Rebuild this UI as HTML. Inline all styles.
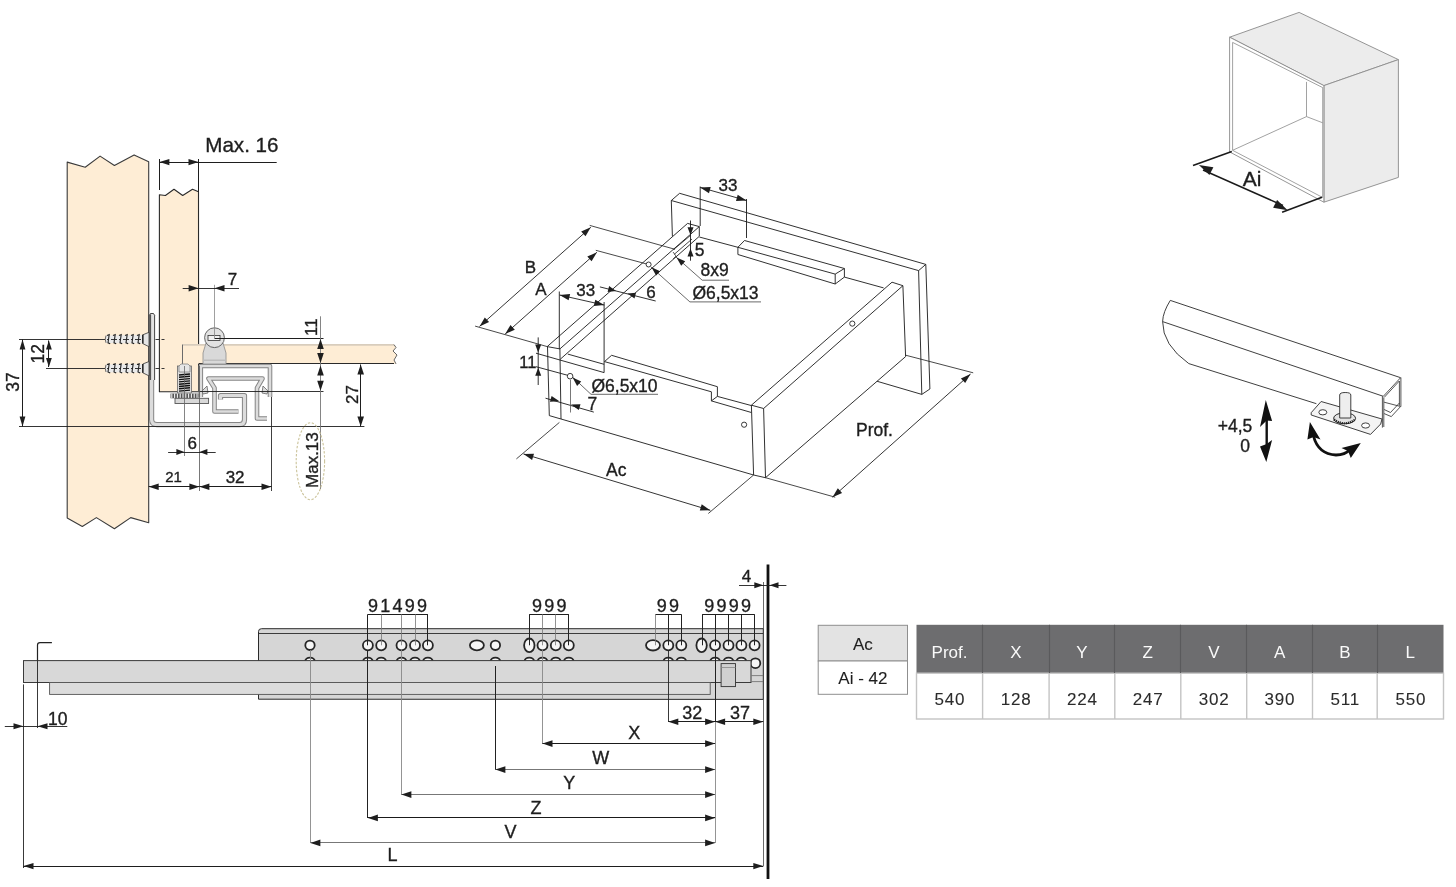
<!DOCTYPE html>
<html><head><meta charset="utf-8"><style>
html,body{margin:0;padding:0;background:#fff;width:1456px;height:887px;overflow:hidden}
svg{display:block;will-change:transform}
text{font-family:"Liberation Sans",sans-serif}
</style></head><body>
<svg width="1456" height="887" viewBox="0 0 1456 887">
<rect width="1456" height="887" fill="#fff"/>
<polygon points="67.2,162.1 85.2,167.2 100.1,156.1 114.4,165.5 134.1,154.9 148.7,161.7 148.7,522.8 130.7,517.6 114.4,528.8 96.4,517.6 82.3,526.5 67.2,518.1" stroke="#3a3a3a" stroke-width="1.1" fill="#feedd5" stroke-linejoin="round" />
<polygon points="159.4,194.7 165.4,195.5 174.0,189.2 182.7,195.5 192.5,189.2 198.5,191.8 198.6,391.7 159.4,391.7" stroke="#2a2a2a" stroke-width="1.1" fill="#feedd5" stroke-linejoin="round" />
<polygon points="182.3,344.6 394,344.6 396,347 393,351 397,355 394,360 396,363.9 182.3,363.9" fill="#feedd5" stroke="none"/>
<line x1="182.3" y1="344.8" x2="394.0" y2="344.8" stroke="#d8cdbd" stroke-width="1.8" />
<line x1="182.5" y1="344.6" x2="182.5" y2="363.9" stroke="#6b6b6b" stroke-width="1" />
<polyline points="394.0,344.6 396.0,347.5 393.0,351.0 397.0,355.0 394.0,360.0 396.0,363.9" stroke="#555" stroke-width="0.9" fill="none" stroke-linejoin="round" />
<line x1="198.6" y1="363.5" x2="394.0" y2="363.5" stroke="#2a2a2a" stroke-width="1" />
<line x1="394.0" y1="363.5" x2="364.4" y2="363.5" stroke="#2a2a2a" stroke-width="1" />
<path d="M151.6,378 V419.5 Q151.6,424.6 157,424.6 H239.5 Q244.5,424.6 244.5,419.5 V395.5 H220.5 V399.5" fill="none" stroke="#858585" stroke-width="5.2" stroke-linejoin="round" stroke-linecap="butt"/>
<path d="M151.6,378 V419.5 Q151.6,424.6 157,424.6 H239.5 Q244.5,424.6 244.5,419.5 V395.5 H220.5 V399.5" fill="none" stroke="#dcdcdc" stroke-width="3.2" stroke-linejoin="round" stroke-linecap="butt"/>
<path d="M200.8,397 V366 H270 V397" fill="none" stroke="#858585" stroke-width="4.6" stroke-linejoin="round" stroke-linecap="butt"/>
<path d="M200.8,397 V366 H270 V397" fill="none" stroke="#dcdcdc" stroke-width="2.6" stroke-linejoin="round" stroke-linecap="butt"/>
<polygon points="202,391 207,386 208,393 203,394" fill="#ddd" stroke="#666" stroke-width="0.8"/>
<polygon points="268,391 263,386 262,393 267,394" fill="#ddd" stroke="#666" stroke-width="0.8"/>
<path d="M238.5,411.5 H214.5 V388 L208.5,378.5 H262.5 L257,388 V418.5 H267" fill="none" stroke="#858585" stroke-width="4.6" stroke-linejoin="round" stroke-linecap="butt"/>
<path d="M238.5,411.5 H214.5 V388 L208.5,378.5 H262.5 L257,388 V418.5 H267" fill="none" stroke="#dcdcdc" stroke-width="2.6" stroke-linejoin="round" stroke-linecap="butt"/>
<path d="M149,316 L150.5,313.5 L153.5,313.5 L155,316 V380 L149,380 Z" fill="#e2e2e2" stroke="none"/>
<path d="M149.3,316 V380 M150.6,314.5 V380 M154.6,316 V380 M149,316 L150.5,313.5 L153.5,313.5 L155,316" fill="none" stroke="#333" stroke-width="0.9"/>
<path d="M105.9,335.4 L142.8,334.9 L142.8,343.59999999999997 L105.9,343.0 Z" fill="#eaeaea" stroke="none"/>
<path d="M142.8,334.8 L149,332.3 V346.7 L142.8,343.59999999999997 Z" fill="#e6e6e6" stroke="#333" stroke-width="0.8"/>
<line x1="142.8" y1="334.8" x2="142.8" y2="343.6" stroke="#222" stroke-width="1.4" />
<path d="M107.0,335.4 L109.2,334.59999999999997 L108.0,342.8 L110.2,343.8 M113.0,335.4 L115.2,334.59999999999997 L114.0,342.8 L116.2,343.8 M119.0,335.4 L121.2,334.59999999999997 L120.0,342.8 L122.2,343.8 M125.0,335.4 L127.2,334.59999999999997 L126.0,342.8 L128.2,343.8 M131.0,335.4 L133.2,334.59999999999997 L132.0,342.8 L134.2,343.8 M137.0,335.4 L139.2,334.59999999999997 L138.0,342.8 L140.2,343.8 " stroke="#222" stroke-width="1.1" fill="none"/>
<path d="M106,335.59999999999997 Q104.5,339.2 106,342.8" stroke="#444" stroke-width="0.8" fill="none"/>
<line x1="99.0" y1="339.5" x2="142.0" y2="339.5" stroke="#222" stroke-width="0.9" stroke-dasharray="6 2 2 2"/>
<line x1="155.5" y1="339.5" x2="164.5" y2="339.5" stroke="#222" stroke-width="0.9" stroke-dasharray="4 2"/>
<path d="M105.9,364.59999999999997 L142.8,364.09999999999997 L142.8,372.79999999999995 L105.9,372.2 Z" fill="#eaeaea" stroke="none"/>
<path d="M142.8,364.0 L149,361.5 V375.9 L142.8,372.79999999999995 Z" fill="#e6e6e6" stroke="#333" stroke-width="0.8"/>
<line x1="142.8" y1="364.0" x2="142.8" y2="372.8" stroke="#222" stroke-width="1.4" />
<path d="M107.0,364.59999999999997 L109.2,363.79999999999995 L108.0,372.0 L110.2,373.0 M113.0,364.59999999999997 L115.2,363.79999999999995 L114.0,372.0 L116.2,373.0 M119.0,364.59999999999997 L121.2,363.79999999999995 L120.0,372.0 L122.2,373.0 M125.0,364.59999999999997 L127.2,363.79999999999995 L126.0,372.0 L128.2,373.0 M131.0,364.59999999999997 L133.2,363.79999999999995 L132.0,372.0 L134.2,373.0 M137.0,364.59999999999997 L139.2,363.79999999999995 L138.0,372.0 L140.2,373.0 " stroke="#222" stroke-width="1.1" fill="none"/>
<path d="M106,364.79999999999995 Q104.5,368.4 106,372.0" stroke="#444" stroke-width="0.8" fill="none"/>
<line x1="99.0" y1="368.5" x2="142.0" y2="368.5" stroke="#222" stroke-width="0.9" stroke-dasharray="6 2 2 2"/>
<line x1="155.5" y1="368.5" x2="164.5" y2="368.5" stroke="#222" stroke-width="0.9" stroke-dasharray="4 2"/>
<line x1="19.0" y1="339.5" x2="99.0" y2="339.5" stroke="#1e1e1e" stroke-width="0.9" />
<line x1="46.0" y1="368.5" x2="99.0" y2="368.5" stroke="#1e1e1e" stroke-width="0.9" />
<line x1="19.0" y1="426.5" x2="364.4" y2="426.5" stroke="#1e1e1e" stroke-width="0.9" />
<path d="M206,343 L203,353 V364 H226 V353 L223,343 Z" fill="#d9d9d9" stroke="#8a8a8a" stroke-width="0.8"/>
<rect x="203" y="359.5" width="23" height="1.5" fill="#bdbdbd"/>
<circle cx="214.5" cy="337.7" r="9.9" fill="#e2e2e2" stroke="#555" stroke-width="0.9"/>
<rect x="208" y="335.5" width="12" height="5" fill="#f0f0f0" stroke="#333" stroke-width="0.8"/>
<line x1="214.5" y1="284.8" x2="214.5" y2="338.0" stroke="#888" stroke-width="0.8" />
<line x1="214.5" y1="338.5" x2="323.5" y2="338.5" stroke="#1e1e1e" stroke-width="1" />
<line x1="199.3" y1="391.5" x2="323.5" y2="391.5" stroke="#1e1e1e" stroke-width="0.9" />
<rect x="177.5" y="366" width="14" height="27" fill="#dedede" stroke="#666" stroke-width="0.8"/>
<path d="M179,366 L181,364 H188 L190,366 V372 H179Z" fill="#e6e6e6" stroke="#777" stroke-width="0.7"/>
<path d="M179,375.0 L190,374.0M179,377.3 L190,376.3M179,379.6 L190,378.6M179,381.9 L190,380.9M179,384.2 L190,383.2M179,386.5 L190,385.5M179,388.8 L190,387.8M179,391.1 L190,390.1" stroke="#111" stroke-width="1.4" fill="none"/>
<rect x="170.5" y="393.5" width="28" height="4.8" fill="#555"/>
<path d="M171.8,393.5 V398.3 M174.60000000000002,393.5 V398.3 M177.4,393.5 V398.3 M180.20000000000002,393.5 V398.3 M183.0,393.5 V398.3 M185.8,393.5 V398.3 M188.60000000000002,393.5 V398.3 M191.4,393.5 V398.3 M194.20000000000002,393.5 V398.3 M197.0,393.5 V398.3 " stroke="#f2f2f2" stroke-width="1.1"/>
<rect x="175" y="398.3" width="33.6" height="5.2" fill="#d8d8d8" stroke="#555" stroke-width="0.9"/>
<line x1="184.5" y1="366.0" x2="184.5" y2="456.0" stroke="#666" stroke-width="0.8" />
<line x1="199.5" y1="366.0" x2="199.5" y2="491.0" stroke="#555" stroke-width="0.8" />
<line x1="271.5" y1="397.0" x2="271.5" y2="491.0" stroke="#2a2a2a" stroke-width="0.9" />
<line x1="159.5" y1="159.0" x2="159.5" y2="190.0" stroke="#1e1e1e" stroke-width="1" />
<line x1="198.5" y1="159.0" x2="198.5" y2="192.0" stroke="#1e1e1e" stroke-width="1" />
<line x1="159.4" y1="162.5" x2="198.5" y2="162.5" stroke="#1e1e1e" stroke-width="1.0" />
<polygon points="159.4,162.1 169.4,158.9 169.4,165.3" fill="#1e1e1e"/>
<polygon points="198.5,162.1 188.5,165.3 188.5,158.9" fill="#1e1e1e"/>
<line x1="198.5" y1="162.5" x2="276.7" y2="162.5" stroke="#1e1e1e" stroke-width="1" />
<text x="241.9" y="152.0" font-size="20.6" text-anchor="middle" fill="#1e1e1e" stroke="#1e1e1e" stroke-width="0.35" >Max. 16</text>
<line x1="182.7" y1="288.5" x2="239.0" y2="288.5" stroke="#1e1e1e" stroke-width="0.9" />
<polygon points="198.6,288.2 188.6,291.4 188.6,285.0" fill="#1e1e1e"/>
<polygon points="214.5,288.2 224.5,285.0 224.5,291.4" fill="#1e1e1e"/>
<text x="232.5" y="284.8" font-size="17" text-anchor="middle" fill="#1e1e1e" stroke="#1e1e1e" stroke-width="0.35" >7</text>
<line x1="22.5" y1="339.5" x2="22.5" y2="426.5" stroke="#1e1e1e" stroke-width="1.0" />
<polygon points="22.5,339.5 25.4,349.5 19.6,349.5" fill="#1e1e1e"/>
<polygon points="22.5,426.5 19.6,416.5 25.4,416.5" fill="#1e1e1e"/>
<text x="13.0" y="388.2" font-size="17.5" text-anchor="middle" fill="#1e1e1e" stroke="#1e1e1e" stroke-width="0.35" transform="rotate(-90 13.0 381.9)" >37</text>
<line x1="48.5" y1="340.5" x2="48.5" y2="367.0" stroke="#1e1e1e" stroke-width="1.0" />
<polygon points="48.9,340.5 51.8,349.5 46.0,349.5" fill="#1e1e1e"/>
<polygon points="48.9,367.0 46.0,358.0 51.8,358.0" fill="#1e1e1e"/>
<text x="37.5" y="360.0" font-size="17.5" text-anchor="middle" fill="#1e1e1e" stroke="#1e1e1e" stroke-width="0.35" transform="rotate(-90 37.5 353.7)" >12</text>
<line x1="320.5" y1="316.3" x2="320.5" y2="489.0" stroke="#777" stroke-width="0.9" />
<polygon points="320.5,338.9 323.8,348.9 317.2,348.9" fill="#1e1e1e"/>
<polygon points="320.5,363.1 317.2,353.1 323.8,353.1" fill="#1e1e1e"/>
<polygon points="320.5,365.4 323.8,375.4 317.2,375.4" fill="#1e1e1e"/>
<polygon points="320.5,390.8 317.2,380.8 323.8,380.8" fill="#1e1e1e"/>
<text x="310.9" y="333.3" font-size="17" text-anchor="middle" fill="#1e1e1e" stroke="#1e1e1e" stroke-width="0.35" transform="rotate(-90 310.9 327.2)" >11</text>
<line x1="360.5" y1="364.5" x2="360.5" y2="426.5" stroke="#1e1e1e" stroke-width="1.0" />
<polygon points="360.7,364.5 364.0,374.5 357.4,374.5" fill="#1e1e1e"/>
<polygon points="360.7,426.5 357.4,416.5 364.0,416.5" fill="#1e1e1e"/>
<text x="351.7" y="400.7" font-size="17" text-anchor="middle" fill="#1e1e1e" stroke="#1e1e1e" stroke-width="0.35" transform="rotate(-90 351.7 394.6)" >27</text>
<ellipse cx="310.4" cy="461.2" rx="14.2" ry="38.5" fill="none" stroke="#cbc39a" stroke-width="1.1" stroke-dasharray="2.4 1.6"/>
<text x="312.3" y="466.2" font-size="17" text-anchor="middle" fill="#1e1e1e" stroke="#1e1e1e" stroke-width="0.35" transform="rotate(-90 312.3 460.1)" >Max.13</text>
<line x1="168.1" y1="452.5" x2="215.7" y2="452.5" stroke="#1e1e1e" stroke-width="0.9" />
<polygon points="184.4,452.0 176.4,455.0 176.4,449.0" fill="#1e1e1e"/>
<polygon points="199.4,452.0 207.4,449.0 207.4,455.0" fill="#1e1e1e"/>
<text x="192.2" y="448.5" font-size="17" text-anchor="middle" fill="#1e1e1e" stroke="#1e1e1e" stroke-width="0.35" >6</text>
<line x1="148.7" y1="486.5" x2="199.4" y2="486.5" stroke="#1e1e1e" stroke-width="1.0" />
<polygon points="148.7,486.7 158.7,483.5 158.7,489.9" fill="#1e1e1e"/>
<polygon points="199.4,486.7 189.4,489.9 189.4,483.5" fill="#1e1e1e"/>
<line x1="199.4" y1="486.5" x2="271.5" y2="486.5" stroke="#1e1e1e" stroke-width="1.0" />
<polygon points="199.4,486.7 209.4,483.5 209.4,489.9" fill="#1e1e1e"/>
<polygon points="271.5,486.7 261.5,489.9 261.5,483.5" fill="#1e1e1e"/>
<text x="173.6" y="481.8" font-size="15" text-anchor="middle" fill="#1e1e1e" stroke="#1e1e1e" stroke-width="0.35" >21</text>
<text x="235.1" y="482.7" font-size="17" text-anchor="middle" fill="#1e1e1e" stroke="#1e1e1e" stroke-width="0.35" >32</text>
<g>
<polyline points="671.3,200.5 679.6,193.3 925.8,264.4 918.6,270.6 671.3,200.5" stroke="#1a1a1a" stroke-width="0.9" fill="none" stroke-linejoin="round" />
<polyline points="671.3,200.5 672.4,236.5" stroke="#1a1a1a" stroke-width="0.9" fill="none" stroke-linejoin="round" />
<polyline points="918.6,270.6 921.8,394.4 929.9,389.0 925.8,264.4" stroke="#1a1a1a" stroke-width="0.9" fill="none" stroke-linejoin="round" />
<polyline points="875.8,380.9 921.8,394.4" stroke="#1a1a1a" stroke-width="0.9" fill="none" stroke-linejoin="round" />
<polyline points="699.3,237.0 737.9,247.3" stroke="#1a1a1a" stroke-width="0.9" fill="none" stroke-linejoin="round" />
<polyline points="844.4,277.1 883.6,287.9" stroke="#1a1a1a" stroke-width="0.9" fill="none" stroke-linejoin="round" />
<polyline points="737.9,247.3 835.2,274.1 835.2,284.0 737.9,254.5 737.9,247.3" stroke="#1a1a1a" stroke-width="0.9" fill="none" stroke-linejoin="round" />
<polyline points="737.9,247.3 744.5,240.5 844.4,268.5 835.2,274.1" stroke="#1a1a1a" stroke-width="0.9" fill="none" stroke-linejoin="round" />
<polyline points="844.4,268.5 844.4,277.1 835.2,284.0" stroke="#1a1a1a" stroke-width="0.9" fill="none" stroke-linejoin="round" />
<polygon points="547.2,346.6 687.6,223.4 699.3,226.6 699.3,236.3 561,419 549.3,415.6" fill="#fff"/>
<polyline points="547.2,346.6 687.6,223.4 699.3,226.6 699.3,236.3" stroke="#1a1a1a" stroke-width="0.9" fill="none" stroke-linejoin="round" />
<polyline points="547.2,346.6 559.9,348.9 699.3,226.6" stroke="#1a1a1a" stroke-width="0.9" fill="none" stroke-linejoin="round" />
<polyline points="560.3,359.2 699.3,236.3" stroke="#1a1a1a" stroke-width="0.9" fill="none" stroke-linejoin="round" />
<polyline points="692.0,239.0 674.0,254.5" stroke="#1a1a1a" stroke-width="0.8" fill="none" stroke-linejoin="round" />
<polyline points="690.6,235.3 673.7,249.5" stroke="#1a1a1a" stroke-width="0.8" fill="none" stroke-linejoin="round" />
<polyline points="547.5,346.6 549.3,415.6 561.0,419.0 559.9,348.9" stroke="#1a1a1a" stroke-width="0.9" fill="none" stroke-linejoin="round" />
<polyline points="567.8,354.1 604.1,364.3" stroke="#1a1a1a" stroke-width="0.9" fill="none" stroke-linejoin="round" />
<polyline points="536.0,353.2 604.1,372.6 604.1,302.0" stroke="#1a1a1a" stroke-width="0.9" fill="none" stroke-linejoin="round" />
<polyline points="604.5,361.6 611.6,355.3 717.4,386.7 717.4,396.4 753.0,406.0" stroke="#1a1a1a" stroke-width="0.9" fill="none" stroke-linejoin="round" />
<polyline points="604.5,361.6 711.4,391.8 711.4,400.9 751.4,412.5" stroke="#1a1a1a" stroke-width="0.9" fill="none" stroke-linejoin="round" />
<polyline points="711.4,400.9 717.4,396.4" stroke="#1a1a1a" stroke-width="0.9" fill="none" stroke-linejoin="round" />
<polyline points="561.0,419.0 753.6,475.0" stroke="#1a1a1a" stroke-width="0.9" fill="none" stroke-linejoin="round" />
<circle cx="570.1" cy="376.2" r="2.8" fill="#fff" stroke="#222" stroke-width="0.9"/>
<circle cx="744.1" cy="424.7" r="2.6" fill="#fff" stroke="#222" stroke-width="0.9"/>
<polyline points="536.0,366.7 567.3,375.2" stroke="#1a1a1a" stroke-width="0.9" fill="none" stroke-linejoin="round" />
<polygon points="751.4,405.2 892,282.2 902.9,285.7 905.6,356.6 765.5,477.7 753.6,475" fill="#fff"/>
<polyline points="751.4,405.2 763.6,408.5 765.5,477.7 753.6,475.0 751.4,405.2" stroke="#1a1a1a" stroke-width="0.9" fill="none" stroke-linejoin="round" />
<polyline points="751.4,405.2 892.0,282.2 902.9,285.7 905.6,356.6 765.5,477.7" stroke="#1a1a1a" stroke-width="0.9" fill="none" stroke-linejoin="round" />
<polyline points="763.6,408.5 902.9,285.7" stroke="#1a1a1a" stroke-width="0.9" fill="none" stroke-linejoin="round" />
<circle cx="852.3" cy="323.6" r="2.6" fill="#fff" stroke="#222" stroke-width="0.9"/>
<polyline points="475.1,326.1 547.2,346.6" stroke="#1a1a1a" stroke-width="0.8" fill="none" stroke-linejoin="round" />
<polyline points="589.7,225.4 675.0,249.3" stroke="#1a1a1a" stroke-width="0.8" fill="none" stroke-linejoin="round" />
<line x1="479.5" y1="326.4" x2="590.8" y2="227.3" stroke="#1e1e1e" stroke-width="0.9" />
<polygon points="479.5,326.4 484.8,317.4 489.1,322.1" fill="#1e1e1e"/>
<polygon points="590.8,227.3 585.5,236.3 581.2,231.6" fill="#1e1e1e"/>
<polyline points="595.8,250.3 648.6,264.5" stroke="#1a1a1a" stroke-width="0.8" fill="none" stroke-linejoin="round" />
<line x1="505.2" y1="334.0" x2="596.9" y2="252.3" stroke="#1e1e1e" stroke-width="0.9" />
<polygon points="505.2,334.0 510.5,325.0 514.8,329.7" fill="#1e1e1e"/>
<polygon points="596.9,252.3 591.6,261.3 587.3,256.6" fill="#1e1e1e"/>
<text x="530.5" y="272.7" font-size="17" text-anchor="middle" fill="#1e1e1e" stroke="#1e1e1e" stroke-width="0.35" >B</text>
<text x="541.0" y="295.0" font-size="17" text-anchor="middle" fill="#1e1e1e" stroke="#1e1e1e" stroke-width="0.35" >A</text>
<polyline points="559.3,291.5 559.3,349.0" stroke="#1a1a1a" stroke-width="0.9" fill="none" stroke-linejoin="round" />
<line x1="559.6" y1="295.0" x2="604.3" y2="305.1" stroke="#1e1e1e" stroke-width="0.9" />
<polygon points="559.6,295.0 570.1,294.1 568.6,300.3" fill="#1e1e1e"/>
<polygon points="604.3,305.1 593.8,306.0 595.3,299.8" fill="#1e1e1e"/>
<text x="585.7" y="296.0" font-size="17" text-anchor="middle" fill="#1e1e1e" stroke="#1e1e1e" stroke-width="0.35" >33</text>
<polyline points="599.9,286.9 655.7,301.0" stroke="#1a1a1a" stroke-width="0.9" fill="none" stroke-linejoin="round" />
<polygon points="616.1,291.0 607.6,291.9 609.1,286.1" fill="#1e1e1e"/>
<polygon points="627.5,293.6 636.0,292.7 634.5,298.5" fill="#1e1e1e"/>
<text x="651.0" y="298.2" font-size="17" text-anchor="middle" fill="#1e1e1e" stroke="#1e1e1e" stroke-width="0.35" >6</text>
<circle cx="648.6" cy="264.5" r="2.5" fill="#fff" stroke="#222" stroke-width="0.9"/>
<polyline points="651.0,267.0 689.9,301.9 761.0,301.9" stroke="#444" stroke-width="0.8" fill="none" stroke-linejoin="round" />
<polygon points="651.5,267.3 660.1,271.2 656.1,275.6" fill="#1e1e1e"/>
<text x="725.5" y="298.9" font-size="17.5" text-anchor="middle" fill="#1e1e1e" stroke="#1e1e1e" stroke-width="0.35" >Ø6,5x13</text>
<path d="M673,252 L676,256 L673,259" fill="none" stroke="#333" stroke-width="0.8"/>
<polyline points="676.0,257.0 702.2,280.2 729.0,280.2" stroke="#444" stroke-width="0.8" fill="none" stroke-linejoin="round" />
<polygon points="676.5,257.5 685.2,261.3 681.2,265.8" fill="#1e1e1e"/>
<text x="714.6" y="276.3" font-size="17.5" text-anchor="middle" fill="#1e1e1e" stroke="#1e1e1e" stroke-width="0.35" >8x9</text>
<polyline points="690.5,220.5 690.5,260.7" stroke="#1a1a1a" stroke-width="0.9" fill="none" stroke-linejoin="round" />
<polygon points="690.5,235.3 687.5,227.3 693.5,227.3" fill="#1e1e1e"/>
<polygon points="690.5,248.5 693.5,256.5 687.5,256.5" fill="#1e1e1e"/>
<text x="699.6" y="255.6" font-size="17.5" text-anchor="middle" fill="#1e1e1e" stroke="#1e1e1e" stroke-width="0.35" >5</text>
<polyline points="700.2,186.5 700.2,226.0" stroke="#1a1a1a" stroke-width="0.9" fill="none" stroke-linejoin="round" />
<polyline points="746.5,199.0 746.5,238.0" stroke="#1a1a1a" stroke-width="0.9" fill="none" stroke-linejoin="round" />
<line x1="700.2" y1="187.4" x2="746.5" y2="200.5" stroke="#1e1e1e" stroke-width="0.9" />
<polygon points="700.2,187.4 710.7,187.0 709.0,193.2" fill="#1e1e1e"/>
<polygon points="746.5,200.5 736.0,200.9 737.7,194.7" fill="#1e1e1e"/>
<text x="728.0" y="190.5" font-size="17" text-anchor="middle" fill="#1e1e1e" stroke="#1e1e1e" stroke-width="0.35" >33</text>
<polyline points="538.2,337.4 538.2,385.0" stroke="#1a1a1a" stroke-width="0.9" fill="none" stroke-linejoin="round" />
<polygon points="538.2,352.5 535.2,344.5 541.2,344.5" fill="#1e1e1e"/>
<polygon points="538.2,367.8 541.2,375.8 535.2,375.8" fill="#1e1e1e"/>
<text x="527.9" y="367.5" font-size="16.5" text-anchor="middle" fill="#1e1e1e" stroke="#1e1e1e" stroke-width="0.35" >11</text>
<polyline points="545.5,398.2 593.8,412.1" stroke="#1a1a1a" stroke-width="0.9" fill="none" stroke-linejoin="round" />
<polyline points="570.5,379.7 570.5,412.5" stroke="#555" stroke-width="0.8" fill="none" stroke-linejoin="round" />
<polygon points="559.4,401.3 549.9,401.7 551.6,395.9" fill="#1e1e1e"/>
<polygon points="571.0,404.6 580.5,404.2 578.8,410.0" fill="#1e1e1e"/>
<text x="592.4" y="409.6" font-size="17.5" text-anchor="middle" fill="#1e1e1e" stroke="#1e1e1e" stroke-width="0.35" >7</text>
<polyline points="572.9,377.4 591.0,394.3 658.0,394.3" stroke="#444" stroke-width="0.8" fill="none" stroke-linejoin="round" />
<polygon points="572.6,377.6 581.2,381.6 577.1,386.0" fill="#1e1e1e"/>
<text x="624.5" y="392.0" font-size="17.5" text-anchor="middle" fill="#1e1e1e" stroke="#1e1e1e" stroke-width="0.35" >Ø6,5x10</text>
<polyline points="559.4,422.4 516.4,458.9" stroke="#1a1a1a" stroke-width="0.8" fill="none" stroke-linejoin="round" />
<polyline points="753.6,475.0 708.3,513.5" stroke="#1a1a1a" stroke-width="0.8" fill="none" stroke-linejoin="round" />
<line x1="523.5" y1="453.9" x2="710.3" y2="510.3" stroke="#1e1e1e" stroke-width="0.9" />
<polygon points="523.5,453.9 534.0,453.7 532.1,459.9" fill="#1e1e1e"/>
<polygon points="710.3,510.3 699.8,510.5 701.7,504.3" fill="#1e1e1e"/>
<text x="616.2" y="475.8" font-size="17.5" text-anchor="middle" fill="#1e1e1e" stroke="#1e1e1e" stroke-width="0.35" >Ac</text>
<polyline points="905.6,355.2 973.2,372.8" stroke="#1a1a1a" stroke-width="0.8" fill="none" stroke-linejoin="round" />
<polyline points="765.5,477.7 835.2,497.2" stroke="#1a1a1a" stroke-width="0.8" fill="none" stroke-linejoin="round" />
<line x1="832.5" y1="497.2" x2="970.5" y2="374.1" stroke="#1e1e1e" stroke-width="0.9" />
<polygon points="832.5,497.2 837.8,488.2 842.1,492.9" fill="#1e1e1e"/>
<polygon points="970.5,374.1 965.2,383.1 960.9,378.4" fill="#1e1e1e"/>
<text x="874.5" y="436.4" font-size="17.5" text-anchor="middle" fill="#1e1e1e" stroke="#1e1e1e" stroke-width="0.35" >Prof.</text>
</g>
<polygon points="1229.6,37.2 1299.1,12.4 1398.4,59.6 1323.9,85.6" fill="#ececec" stroke="#8a8a8a" stroke-width="0.9"/>
<polygon points="1323.9,85.6 1398.4,59.6 1398.4,177.4 1323.9,202.2" fill="#ececec" stroke="#8a8a8a" stroke-width="0.9"/>
<polygon points="1229.6,37.2 1323.9,85.6 1323.9,202.2 1229.6,151.9" fill="#fff" stroke="#8a8a8a" stroke-width="0.9"/>
<polyline points="1232.6,42.4 1322.7,87.6 1322.7,197.5 1232.6,150.3 1232.6,42.4" stroke="#8a8a8a" stroke-width="0.8" fill="none" stroke-linejoin="round" />
<polyline points="1306.5,81.9 1306.5,116.6 1232.6,150.3" stroke="#8a8a8a" stroke-width="0.8" fill="none" stroke-linejoin="round" />
<polyline points="1306.5,116.6 1322.7,122.8" stroke="#8a8a8a" stroke-width="0.8" fill="none" stroke-linejoin="round" />
<line x1="1193.0" y1="165.4" x2="1231.8" y2="151.5" stroke="#1a1a1a" stroke-width="1.6" />
<line x1="1282.1" y1="212.2" x2="1322.0" y2="197.3" stroke="#1a1a1a" stroke-width="1.6" />
<line x1="1203.0" y1="170.0" x2="1283.0" y2="205.5" stroke="#1a1a1a" stroke-width="1.5" />
<polygon points="1198.9,164.9 1213.4,167.3 1209.4,175.1" fill="#1e1e1e"/>
<polygon points="1287.6,210.2 1273.1,207.8 1277.1,200.0" fill="#1e1e1e"/>
<text x="1252.0" y="186.2" font-size="21" text-anchor="middle" fill="#1e1e1e" stroke="#1e1e1e" stroke-width="0.35" >Ai</text>
<polyline points="1170.3,300.4 1400.6,377.7" stroke="#2a2a2a" stroke-width="0.9" fill="none" stroke-linejoin="round" />
<polyline points="1162.6,321.6 1383.3,396.3" stroke="#2a2a2a" stroke-width="0.9" fill="none" stroke-linejoin="round" />
<path d="M1170.3,300.4 Q1163,312 1162.6,321.5 Q1162.5,345 1188.8,363.6 L1316.4,403.7" fill="none" stroke="#2a2a2a" stroke-width="0.9"/>
<path d="M1400.6,377.7 L1383.3,396.3 M1399.3,381 L1384.3,397.3 M1400.9,377.7 V406.5 M1399.4,381 V405.8 M1382.4,396.3 V427.6 M1383.8,397.5 V427 M1384.1,402.2 L1400.6,406.5 L1391.3,416.6 L1384.1,413.6 M1384.1,409.5 L1390.5,412.5 L1399.4,403" fill="none" stroke="#2a2a2a" stroke-width="0.8"/>
<polygon points="1311.2,412.7 1321.1,401.5 1382,419 1380.7,424 1370.5,434.4 1311.2,415" fill="#f4f4f4" stroke="#2a2a2a" stroke-width="0.9"/>
<ellipse cx="1322.8" cy="412.3" rx="4" ry="2.6" fill="#fff" stroke="#2a2a2a" stroke-width="0.9"/>
<ellipse cx="1365.6" cy="425.5" rx="4" ry="2.6" fill="#fff" stroke="#2a2a2a" stroke-width="0.9"/>
<ellipse cx="1344.6" cy="418.3" rx="11" ry="5.5" fill="#e4e4e4" stroke="#2a2a2a" stroke-width="1"/>
<path d="M1334,419.5 Q1344.6,427 1355.2,419.5" fill="none" stroke="#222" stroke-width="2.2" stroke-dasharray="1.2 0.9"/>
<path d="M1339.7,395 Q1339.7,392.5 1345.2,392.5 Q1350.8,392.5 1350.8,395 V418 H1339.7Z" fill="#eee" stroke="#2a2a2a" stroke-width="0.9"/>
<line x1="1266.7" y1="420.0" x2="1266.7" y2="447.0" stroke="#111" stroke-width="2.4" />
<polygon points="1265.8,399.9 1272.1,421.1 1266.7,420.5 1260,427" fill="#111"/>
<polygon points="1266.3,462.1 1260,446.4 1266.7,444 1272.1,440" fill="#111"/>
<text x="1252.3" y="432.2" font-size="17.5" text-anchor="end" fill="#1e1e1e" stroke="#1e1e1e" stroke-width="0.35" >+4,5</text>
<text x="1250.0" y="452.2" font-size="17.5" text-anchor="end" fill="#1e1e1e" stroke="#1e1e1e" stroke-width="0.35" >0</text>
<path d="M1313.5,436 Q1318,454 1336,455 Q1345,455 1350,449.5" fill="none" stroke="#111" stroke-width="2.8"/>
<polygon points="1309.9,422 1320.5,439.4 1313.5,437 1307.4,439.4" fill="#111"/>
<polygon points="1360.8,443.1 1350.8,458 1348,451 1341.5,448" fill="#111"/>
<path d="M258.5,699.2 V631.5 Q258.5,628.7 261.5,628.7 H763.3 V699.4 Z" fill="#d6d6d6" stroke="#2a2a2a" stroke-width="1"/>
<line x1="258.5" y1="633.5" x2="763.3" y2="633.5" stroke="#2a2a2a" stroke-width="0.9" />
<ellipse cx="310.0" cy="645.3" rx="4.7" ry="4.7" fill="#f6f6f6" stroke="#262626" stroke-width="1.8"/>
<ellipse cx="367.9" cy="645.3" rx="5.0" ry="5.0" fill="#f6f6f6" stroke="#262626" stroke-width="1.8"/>
<ellipse cx="381.2" cy="645.3" rx="5.0" ry="5.0" fill="#f6f6f6" stroke="#262626" stroke-width="1.8"/>
<ellipse cx="401.5" cy="645.3" rx="5.0" ry="5.0" fill="#f6f6f6" stroke="#262626" stroke-width="1.8"/>
<ellipse cx="415.0" cy="645.3" rx="5.0" ry="5.0" fill="#f6f6f6" stroke="#262626" stroke-width="1.8"/>
<ellipse cx="427.9" cy="645.3" rx="5.0" ry="5.0" fill="#f6f6f6" stroke="#262626" stroke-width="1.8"/>
<ellipse cx="476.9" cy="645.3" rx="7.0" ry="5.0" fill="#f6f6f6" stroke="#262626" stroke-width="1.8"/>
<ellipse cx="495.4" cy="645.3" rx="4.7" ry="4.7" fill="#f6f6f6" stroke="#262626" stroke-width="1.8"/>
<ellipse cx="529.3" cy="645.3" rx="5.2" ry="6.8" fill="#f6f6f6" stroke="#262626" stroke-width="1.8"/>
<ellipse cx="542.5" cy="645.3" rx="5.0" ry="5.0" fill="#f6f6f6" stroke="#262626" stroke-width="1.8"/>
<ellipse cx="555.8" cy="645.3" rx="5.0" ry="5.0" fill="#f6f6f6" stroke="#262626" stroke-width="1.8"/>
<ellipse cx="568.8" cy="645.3" rx="5.0" ry="5.0" fill="#f6f6f6" stroke="#262626" stroke-width="1.8"/>
<ellipse cx="653.0" cy="645.3" rx="7.0" ry="5.2" fill="#f6f6f6" stroke="#262626" stroke-width="1.8"/>
<ellipse cx="668.3" cy="645.3" rx="5.0" ry="5.0" fill="#f6f6f6" stroke="#262626" stroke-width="1.8"/>
<ellipse cx="681.3" cy="645.3" rx="5.0" ry="5.0" fill="#f6f6f6" stroke="#262626" stroke-width="1.8"/>
<ellipse cx="701.6" cy="645.3" rx="5.2" ry="6.8" fill="#f6f6f6" stroke="#262626" stroke-width="1.8"/>
<ellipse cx="715.1" cy="645.3" rx="5.0" ry="5.0" fill="#f6f6f6" stroke="#262626" stroke-width="1.8"/>
<ellipse cx="728.5" cy="645.3" rx="5.0" ry="5.0" fill="#f6f6f6" stroke="#262626" stroke-width="1.8"/>
<ellipse cx="741.4" cy="645.3" rx="5.0" ry="5.0" fill="#f6f6f6" stroke="#262626" stroke-width="1.8"/>
<ellipse cx="754.6" cy="645.3" rx="5.0" ry="5.0" fill="#f6f6f6" stroke="#262626" stroke-width="1.8"/>
<ellipse cx="310.0" cy="661.5" rx="4.8" ry="3.9" fill="#f6f6f6" stroke="#262626" stroke-width="1.8"/>
<ellipse cx="367.9" cy="661.5" rx="4.8" ry="3.9" fill="#f6f6f6" stroke="#262626" stroke-width="1.8"/>
<ellipse cx="381.2" cy="661.5" rx="4.8" ry="3.9" fill="#f6f6f6" stroke="#262626" stroke-width="1.8"/>
<ellipse cx="401.5" cy="661.5" rx="4.8" ry="3.9" fill="#f6f6f6" stroke="#262626" stroke-width="1.8"/>
<ellipse cx="415.0" cy="661.5" rx="4.8" ry="3.9" fill="#f6f6f6" stroke="#262626" stroke-width="1.8"/>
<ellipse cx="427.9" cy="661.5" rx="4.8" ry="3.9" fill="#f6f6f6" stroke="#262626" stroke-width="1.8"/>
<ellipse cx="495.4" cy="661.5" rx="4.8" ry="3.9" fill="#f6f6f6" stroke="#262626" stroke-width="1.8"/>
<ellipse cx="529.3" cy="661.5" rx="4.8" ry="3.9" fill="#f6f6f6" stroke="#262626" stroke-width="1.8"/>
<ellipse cx="542.5" cy="661.5" rx="4.8" ry="3.9" fill="#f6f6f6" stroke="#262626" stroke-width="1.8"/>
<ellipse cx="555.8" cy="661.5" rx="4.8" ry="3.9" fill="#f6f6f6" stroke="#262626" stroke-width="1.8"/>
<ellipse cx="568.8" cy="661.5" rx="4.8" ry="3.9" fill="#f6f6f6" stroke="#262626" stroke-width="1.8"/>
<ellipse cx="668.3" cy="661.5" rx="4.8" ry="3.9" fill="#f6f6f6" stroke="#262626" stroke-width="1.8"/>
<ellipse cx="681.3" cy="661.5" rx="4.8" ry="3.9" fill="#f6f6f6" stroke="#262626" stroke-width="1.8"/>
<ellipse cx="715.1" cy="661.5" rx="4.8" ry="3.9" fill="#f6f6f6" stroke="#262626" stroke-width="1.8"/>
<ellipse cx="728.5" cy="661.5" rx="4.8" ry="3.9" fill="#f6f6f6" stroke="#262626" stroke-width="1.8"/>
<ellipse cx="741.4" cy="661.5" rx="4.8" ry="3.9" fill="#f6f6f6" stroke="#262626" stroke-width="1.8"/>
<ellipse cx="755.4" cy="663.2" rx="4.9" ry="4.9" fill="#f6f6f6" stroke="#262626" stroke-width="1.8"/>
<rect x="23.5" y="660.6" width="727.5" height="21.9" fill="#d8d8d8" stroke="#3a3a3a" stroke-width="1"/>
<path d="M751,675.6 H763.3 M751,681.6 H763.3" stroke="#777" stroke-width="0.9"/>
<rect x="49.6" y="682.5" width="660.6" height="11.9" fill="#dcdcdc" stroke="#555" stroke-width="0.9"/>
<rect x="721.1" y="663.6" width="14.4" height="23" fill="#d0d0d0" stroke="#333" stroke-width="0.9"/>
<line x1="721.1" y1="667.5" x2="735.5" y2="667.5" stroke="#888" stroke-width="0.8" />
<path d="M37.5,660.6 V645 Q37.5,642.7 40,642.7 H51.9" fill="none" stroke="#222" stroke-width="1.2"/>
<line x1="768.0" y1="564.5" x2="768.0" y2="879.0" stroke="#111" stroke-width="2.8" />
<line x1="763.5" y1="582.0" x2="763.5" y2="866.0" stroke="#444" stroke-width="0.8" />
<line x1="739.0" y1="585.5" x2="786.4" y2="585.5" stroke="#1e1e1e" stroke-width="0.9" />
<polygon points="763.3,585.2 754.3,588.2 754.3,582.2" fill="#1e1e1e"/>
<polygon points="769.5,585.2 778.5,582.2 778.5,588.2" fill="#1e1e1e"/>
<text x="746.4" y="581.5" font-size="17" text-anchor="middle" fill="#1e1e1e" stroke="#1e1e1e" stroke-width="0.35" >4</text>
<line x1="367.9" y1="614.5" x2="427.9" y2="614.5" stroke="#1e1e1e" stroke-width="1" />
<line x1="367.5" y1="614.3" x2="367.5" y2="645.3" stroke="#222" stroke-width="1.0" />
<line x1="381.5" y1="614.3" x2="381.5" y2="645.3" stroke="#777" stroke-width="0.8" />
<line x1="401.5" y1="614.3" x2="401.5" y2="645.3" stroke="#777" stroke-width="0.8" />
<line x1="415.5" y1="614.3" x2="415.5" y2="645.3" stroke="#777" stroke-width="0.8" />
<line x1="427.5" y1="614.3" x2="427.5" y2="645.3" stroke="#222" stroke-width="1.0" />
<text x="398.6" y="612.3" font-size="18" text-anchor="middle" fill="#1e1e1e" stroke="#1e1e1e" stroke-width="0.35" letter-spacing="2.2">91499</text>
<line x1="529.3" y1="614.5" x2="568.8" y2="614.5" stroke="#1e1e1e" stroke-width="1" />
<line x1="529.5" y1="614.3" x2="529.5" y2="645.3" stroke="#222" stroke-width="1.0" />
<line x1="542.5" y1="614.3" x2="542.5" y2="645.3" stroke="#777" stroke-width="0.8" />
<line x1="555.5" y1="614.3" x2="555.5" y2="645.3" stroke="#777" stroke-width="0.8" />
<line x1="568.5" y1="614.3" x2="568.5" y2="645.3" stroke="#222" stroke-width="1.0" />
<text x="550.4" y="612.3" font-size="18" text-anchor="middle" fill="#1e1e1e" stroke="#1e1e1e" stroke-width="0.35" letter-spacing="2.2">999</text>
<line x1="655.4" y1="614.5" x2="681.3" y2="614.5" stroke="#1e1e1e" stroke-width="1" />
<line x1="655.5" y1="614.3" x2="655.5" y2="645.3" stroke="#777" stroke-width="0.8" />
<line x1="668.5" y1="614.3" x2="668.5" y2="645.3" stroke="#222" stroke-width="1.0" />
<line x1="681.5" y1="614.3" x2="681.5" y2="645.3" stroke="#222" stroke-width="1.0" />
<text x="668.9" y="612.3" font-size="18" text-anchor="middle" fill="#1e1e1e" stroke="#1e1e1e" stroke-width="0.35" letter-spacing="2.2">99</text>
<line x1="702.2" y1="614.5" x2="754.6" y2="614.5" stroke="#1e1e1e" stroke-width="1" />
<line x1="702.5" y1="614.3" x2="702.5" y2="645.3" stroke="#222" stroke-width="1.0" />
<line x1="715.5" y1="614.3" x2="715.5" y2="645.3" stroke="#222" stroke-width="1.0" />
<line x1="728.5" y1="614.3" x2="728.5" y2="645.3" stroke="#222" stroke-width="1.0" />
<line x1="741.5" y1="614.3" x2="741.5" y2="645.3" stroke="#222" stroke-width="1.0" />
<line x1="754.5" y1="614.3" x2="754.5" y2="645.3" stroke="#222" stroke-width="1.0" />
<text x="728.7" y="612.3" font-size="18" text-anchor="middle" fill="#1e1e1e" stroke="#1e1e1e" stroke-width="0.35" letter-spacing="2.2">9999</text>
<line x1="310.5" y1="650.0" x2="310.5" y2="843.0" stroke="#888" stroke-width="0.9" />
<line x1="367.5" y1="650.0" x2="367.5" y2="818.0" stroke="#222" stroke-width="1" />
<line x1="401.5" y1="650.0" x2="401.5" y2="795.0" stroke="#888" stroke-width="0.9" />
<line x1="495.5" y1="666.0" x2="495.5" y2="770.0" stroke="#222" stroke-width="1" />
<line x1="542.5" y1="650.0" x2="542.5" y2="744.0" stroke="#888" stroke-width="0.9" />
<line x1="668.5" y1="650.0" x2="668.5" y2="722.0" stroke="#222" stroke-width="0.9" />
<line x1="715.5" y1="650.0" x2="715.5" y2="722.0" stroke="#222" stroke-width="1" />
<line x1="715.5" y1="722.0" x2="715.5" y2="843.0" stroke="#888" stroke-width="0.9" />
<line x1="23.5" y1="684.4" x2="23.5" y2="868.0" stroke="#222" stroke-width="0.9" />
<line x1="37.5" y1="660.6" x2="37.5" y2="728.0" stroke="#222" stroke-width="0.9" />
<line x1="4.8" y1="726.5" x2="67.3" y2="726.5" stroke="#1e1e1e" stroke-width="0.9" />
<polygon points="23.5,726.2 13.5,729.2 13.5,723.2" fill="#1e1e1e"/>
<polygon points="37.5,726.2 47.5,723.2 47.5,729.2" fill="#1e1e1e"/>
<text x="57.7" y="724.8" font-size="17.5" text-anchor="middle" fill="#1e1e1e" stroke="#1e1e1e" stroke-width="0.35" >10</text>
<line x1="668.3" y1="721.5" x2="715.1" y2="721.5" stroke="#1e1e1e" stroke-width="1.0" />
<polygon points="668.3,721.8 678.3,718.6 678.3,725.0" fill="#1e1e1e"/>
<polygon points="715.1,721.8 705.1,725.0 705.1,718.6" fill="#1e1e1e"/>
<line x1="715.1" y1="721.5" x2="763.3" y2="721.5" stroke="#1e1e1e" stroke-width="1.0" />
<polygon points="715.1,721.8 725.1,718.6 725.1,725.0" fill="#1e1e1e"/>
<polygon points="763.3,721.8 753.3,725.0 753.3,718.6" fill="#1e1e1e"/>
<text x="692.2" y="718.8" font-size="18" text-anchor="middle" fill="#1e1e1e" stroke="#1e1e1e" stroke-width="0.35" >32</text>
<text x="740.0" y="718.8" font-size="18" text-anchor="middle" fill="#1e1e1e" stroke="#1e1e1e" stroke-width="0.35" >37</text>
<line x1="542.5" y1="743.5" x2="715.1" y2="743.5" stroke="#1a1a1a" stroke-width="1" />
<polygon points="542.5,743.6 552.5,740.3 552.5,746.9" fill="#1e1e1e"/>
<polygon points="715.1,743.6 705.1,746.9 705.1,740.3" fill="#1e1e1e"/>
<text x="634.3" y="738.5" font-size="18" text-anchor="middle" fill="#1e1e1e" stroke="#1e1e1e" stroke-width="0.35" >X</text>
<line x1="495.4" y1="769.5" x2="715.1" y2="769.5" stroke="#777" stroke-width="1" />
<polygon points="495.4,769.6 505.4,766.3 505.4,772.9" fill="#1e1e1e"/>
<polygon points="715.1,769.6 705.1,772.9 705.1,766.3" fill="#1e1e1e"/>
<text x="600.7" y="763.5" font-size="18" text-anchor="middle" fill="#1e1e1e" stroke="#1e1e1e" stroke-width="0.35" >W</text>
<line x1="401.4" y1="794.5" x2="715.1" y2="794.5" stroke="#777" stroke-width="1" />
<polygon points="401.4,794.6 411.4,791.3 411.4,797.9" fill="#1e1e1e"/>
<polygon points="715.1,794.6 705.1,797.9 705.1,791.3" fill="#1e1e1e"/>
<text x="569.3" y="789.3" font-size="18" text-anchor="middle" fill="#1e1e1e" stroke="#1e1e1e" stroke-width="0.35" >Y</text>
<line x1="367.9" y1="817.5" x2="715.1" y2="817.5" stroke="#1a1a1a" stroke-width="1" />
<polygon points="367.9,817.9 377.9,814.6 377.9,821.2" fill="#1e1e1e"/>
<polygon points="715.1,817.9 705.1,821.2 705.1,814.6" fill="#1e1e1e"/>
<text x="536.1" y="813.5" font-size="18" text-anchor="middle" fill="#1e1e1e" stroke="#1e1e1e" stroke-width="0.35" >Z</text>
<line x1="310.4" y1="842.5" x2="715.1" y2="842.5" stroke="#777" stroke-width="1" />
<polygon points="310.4,842.9 320.4,839.6 320.4,846.2" fill="#1e1e1e"/>
<polygon points="715.1,842.9 705.1,846.2 705.1,839.6" fill="#1e1e1e"/>
<text x="510.4" y="837.8" font-size="18" text-anchor="middle" fill="#1e1e1e" stroke="#1e1e1e" stroke-width="0.35" >V</text>
<line x1="23.5" y1="866.5" x2="763.3" y2="866.5" stroke="#1e1e1e" stroke-width="1.0" />
<polygon points="23.5,866.1 33.5,862.9 33.5,869.3" fill="#1e1e1e"/>
<polygon points="763.3,866.1 753.3,869.3 753.3,862.9" fill="#1e1e1e"/>
<text x="392.5" y="860.7" font-size="18" text-anchor="middle" fill="#1e1e1e" stroke="#1e1e1e" stroke-width="0.35" >L</text>
<rect x="818.2" y="625.3" width="89.3" height="35.7" fill="#e3e3e3" stroke="#8f8f8f" stroke-width="1"/>
<rect x="818.2" y="661" width="89.3" height="33.3" fill="#fff" stroke="#8f8f8f" stroke-width="1"/>
<text x="862.9" y="650.3" font-size="17" text-anchor="middle" fill="#1e1e1e" stroke="#1e1e1e" stroke-width="0.1" >Ac</text>
<text x="862.9" y="684.3" font-size="17" text-anchor="middle" fill="#1e1e1e" stroke="#1e1e1e" stroke-width="0.1" >Ai - 42</text>
<rect x="916.5" y="624.8" width="527.0" height="48.4" fill="#6d6d6f"/>
<rect x="916.5" y="673.2" width="527.0" height="45.8" fill="#fff" stroke="#c4c4c4" stroke-width="1.4"/>
<text x="949.5" y="658.0" font-size="17" text-anchor="middle" fill="#fafafa" stroke="#fafafa" stroke-width="0" >Prof.</text>
<text x="949.9" y="705.2" font-size="17" text-anchor="middle" fill="#2b2b2b" stroke="#2b2b2b" stroke-width="0.1" letter-spacing="0.8">540</text>
<line x1="982.5" y1="624.8" x2="982.5" y2="673.2" stroke="#5a5a5c" stroke-width="1.2" />
<line x1="982.6" y1="673.2" x2="982.6" y2="719.0" stroke="#c4c4c4" stroke-width="1.4" />
<text x="1015.8" y="658.0" font-size="17" text-anchor="middle" fill="#fafafa" stroke="#fafafa" stroke-width="0" >X</text>
<text x="1016.2" y="705.2" font-size="17" text-anchor="middle" fill="#2b2b2b" stroke="#2b2b2b" stroke-width="0.1" letter-spacing="0.8">128</text>
<line x1="1049.5" y1="624.8" x2="1049.5" y2="673.2" stroke="#5a5a5c" stroke-width="1.2" />
<line x1="1049.1" y1="673.2" x2="1049.1" y2="719.0" stroke="#c4c4c4" stroke-width="1.4" />
<text x="1081.9" y="658.0" font-size="17" text-anchor="middle" fill="#fafafa" stroke="#fafafa" stroke-width="0" >Y</text>
<text x="1082.3" y="705.2" font-size="17" text-anchor="middle" fill="#2b2b2b" stroke="#2b2b2b" stroke-width="0.1" letter-spacing="0.8">224</text>
<line x1="1114.5" y1="624.8" x2="1114.5" y2="673.2" stroke="#5a5a5c" stroke-width="1.2" />
<line x1="1114.8" y1="673.2" x2="1114.8" y2="719.0" stroke="#c4c4c4" stroke-width="1.4" />
<text x="1147.8" y="658.0" font-size="17" text-anchor="middle" fill="#fafafa" stroke="#fafafa" stroke-width="0" >Z</text>
<text x="1148.2" y="705.2" font-size="17" text-anchor="middle" fill="#2b2b2b" stroke="#2b2b2b" stroke-width="0.1" letter-spacing="0.8">247</text>
<line x1="1180.5" y1="624.8" x2="1180.5" y2="673.2" stroke="#5a5a5c" stroke-width="1.2" />
<line x1="1180.8" y1="673.2" x2="1180.8" y2="719.0" stroke="#c4c4c4" stroke-width="1.4" />
<text x="1213.8" y="658.0" font-size="17" text-anchor="middle" fill="#fafafa" stroke="#fafafa" stroke-width="0" >V</text>
<text x="1214.2" y="705.2" font-size="17" text-anchor="middle" fill="#2b2b2b" stroke="#2b2b2b" stroke-width="0.1" letter-spacing="0.8">302</text>
<line x1="1246.5" y1="624.8" x2="1246.5" y2="673.2" stroke="#5a5a5c" stroke-width="1.2" />
<line x1="1246.7" y1="673.2" x2="1246.7" y2="719.0" stroke="#c4c4c4" stroke-width="1.4" />
<text x="1279.6" y="658.0" font-size="17" text-anchor="middle" fill="#fafafa" stroke="#fafafa" stroke-width="0" >A</text>
<text x="1280.0" y="705.2" font-size="17" text-anchor="middle" fill="#2b2b2b" stroke="#2b2b2b" stroke-width="0.1" letter-spacing="0.8">390</text>
<line x1="1312.5" y1="624.8" x2="1312.5" y2="673.2" stroke="#5a5a5c" stroke-width="1.2" />
<line x1="1312.5" y1="673.2" x2="1312.5" y2="719.0" stroke="#c4c4c4" stroke-width="1.4" />
<text x="1344.8" y="658.0" font-size="17" text-anchor="middle" fill="#fafafa" stroke="#fafafa" stroke-width="0" >B</text>
<text x="1345.2" y="705.2" font-size="17" text-anchor="middle" fill="#2b2b2b" stroke="#2b2b2b" stroke-width="0.1" letter-spacing="0.8">511</text>
<line x1="1377.5" y1="624.8" x2="1377.5" y2="673.2" stroke="#5a5a5c" stroke-width="1.2" />
<line x1="1377.2" y1="673.2" x2="1377.2" y2="719.0" stroke="#c4c4c4" stroke-width="1.4" />
<text x="1410.3" y="658.0" font-size="17" text-anchor="middle" fill="#fafafa" stroke="#fafafa" stroke-width="0" >L</text>
<text x="1410.8" y="705.2" font-size="17" text-anchor="middle" fill="#2b2b2b" stroke="#2b2b2b" stroke-width="0.1" letter-spacing="0.8">550</text>
</svg></body></html>
